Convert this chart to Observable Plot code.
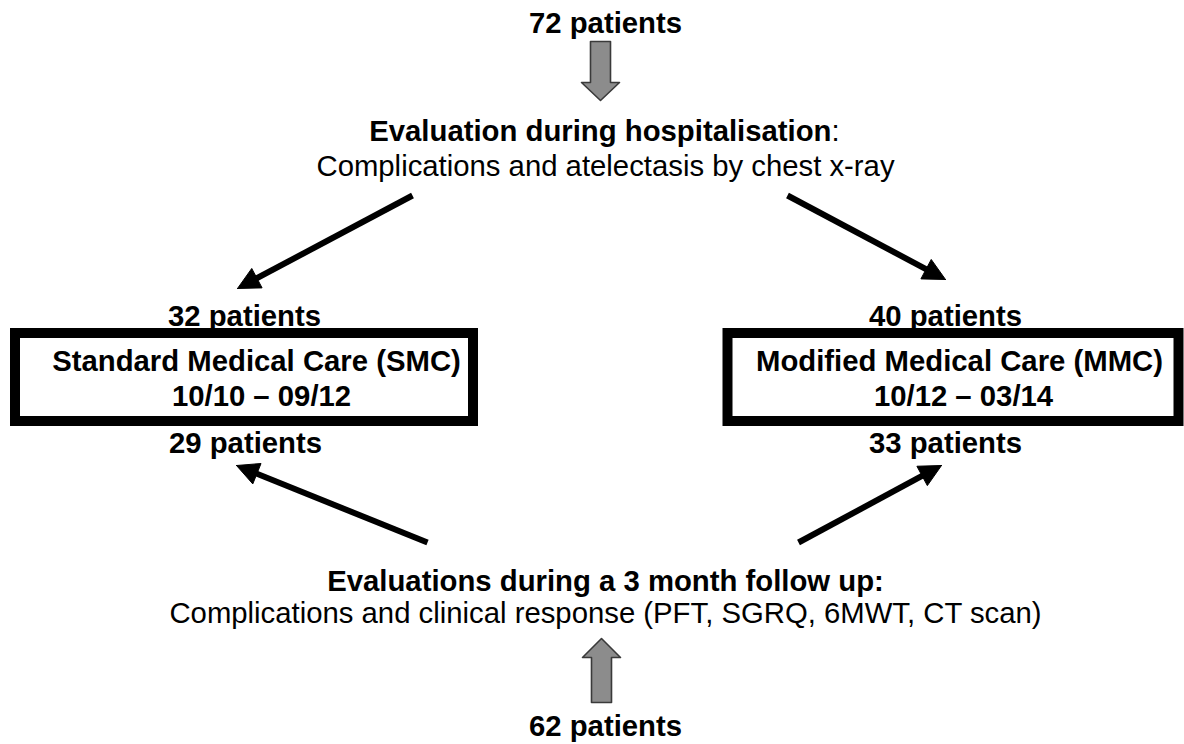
<!DOCTYPE html>
<html>
<head>
<meta charset="utf-8">
<script src="https://cdn.jsdelivr.net/npm/d3@7"></script>
<script src="https://cdn.jsdelivr.net/npm/@observablehq/plot@0.6"></script>
<style>
  html, body { margin: 0; padding: 0; background: #fff; }
  #chart svg { display: block; }
</style>
</head>
<body>
<div id="chart"></div>
<script>
// ---- Data ----
const counts = [72, 32, 40, 29, 33, 62];
const arms = ["Standard Medical Care (SMC)", "Modified Medical Care (MMC)"];
const periods = ["10/10 – 09/12", "10/12 – 03/14"];
const stageTitles = ["Evaluation during hospitalisation", "Evaluations during a 3 month follow up:"];
const stageSuffix = [":", ""];
const stageDetails = [
  "Complications and atelectasis by chest x-ray",
  "Complications and clinical response (PFT, SGRQ, 6MWT, CT scan)"
];

// ---- Layout (diagram coordinates, separate from data) ----
const W = 1184, H = 744;
const countPos = [[605, 32], [244, 325], [945, 325], [245, 452], [945, 452], [605, 735]];
const boxPos = [[15, 473, 333, 421], [727.5, 1178.5, 333, 421]];
const armPos = [[256, 370], [959, 370]];
const periodPos = [[261, 405], [963, 405]];
const stagePos = [[831, 140], [605, 590]];
const stageAnchor = ["end", "middle"];
const detailPos = [[605, 175], [605, 622]];
const blackArrows = [
  [[412, 195], [237, 288]],
  [[787, 195], [945, 279]],
  [[427, 542], [236, 465]],
  [[798, 542], [941, 465]]
];
// gray block arrows: [cx, tailY, headBaseY, tipY]
const blockArrows = [[600, 41, 82, 100], [601, 702, 657, 638]];

// ---- Derived tables ----
const countRows = counts.map((n, i) => ({label: `${n} patients`, x: countPos[i][0], y: countPos[i][1]}));
const boxRows = boxPos.map(([x1, x2, y1, y2]) => ({x1, x2, y1, y2}));
const armRows = arms.map((t, i) => ({t, x: armPos[i][0], y: armPos[i][1]}));
const periodRows = periods.map((t, i) => ({t, x: periodPos[i][0], y: periodPos[i][1]}));
const stageRows = stageTitles.map((t, i) => ({t, x: stagePos[i][0], y: stagePos[i][1], a: stageAnchor[i]}));
const suffixRows = stageSuffix.map((t, i) => ({t, x: stagePos[i][0], y: stagePos[i][1]})).filter(d => d.t);
const detailRows = stageDetails.map((t, i) => ({t, x: detailPos[i][0], y: detailPos[i][1]}));

const headLen = 22, headHalf = 11;
const shafts = [], heads = [];
blackArrows.forEach(([[x0, y0], [x1, y1]], k) => {
  const dx = x1 - x0, dy = y1 - y0, L = Math.hypot(dx, dy);
  const ux = dx / L, uy = dy / L;
  const bx = x1 - ux * headLen, by = y1 - uy * headLen;
  shafts.push({x1: x0, y1: y0, x2: bx + ux * 2, y2: by + uy * 2});
  const px = -uy, py = ux;
  const pts = [[x1, y1], [bx + px * headHalf, by + py * headHalf], [bx - px * headHalf, by - py * headHalf], [x1, y1]];
  pts.forEach(([x, y]) => heads.push({x, y, k}));
});

const blocks = [];
const shaftHalf = 10, blockHeadHalf = 19;
blockArrows.forEach(([cx, t, hb, tip], k) => {
  const pts = [
    [cx - shaftHalf, t], [cx - shaftHalf, hb], [cx - blockHeadHalf, hb], [cx, tip],
    [cx + blockHeadHalf, hb], [cx + shaftHalf, hb], [cx + shaftHalf, t], [cx - shaftHalf, t]
  ];
  pts.forEach(([x, y]) => blocks.push({x, y, k}));
});

const font = "'Liberation Sans', Arial, Helvetica, sans-serif";
const fs = 29.3;
const stageText = (anchor) => Plot.text(stageRows.filter(d => d.a === anchor), {
  x: "x", y: "y", text: "t", textAnchor: anchor, fontSize: fs, fontWeight: "bold", lineAnchor: "bottom", fill: "#000"
});

const chart = Plot.plot({
  width: W,
  height: H,
  margin: 0,
  x: {domain: [0, W], range: [0, W], axis: null},
  y: {domain: [0, H], range: [0, H], axis: null},
  style: {fontFamily: font, background: "#fff", color: "#000"},
  marks: [
    Plot.rect(boxRows, {x1: "x1", x2: "x2", y1: "y1", y2: "y2", fill: "#fff", stroke: "#000", strokeWidth: 10}),
    Plot.link(shafts, {x1: "x1", y1: "y1", x2: "x2", y2: "y2", stroke: "#000", strokeWidth: 6}),
    Plot.line(heads, {x: "x", y: "y", z: "k", fill: "#000", stroke: "#000", strokeWidth: 1, curve: "linear"}),
    Plot.line(blocks, {x: "x", y: "y", z: "k", fill: "#8c8c8c", stroke: "#3a3a3a", strokeWidth: 1.6, curve: "linear"}),
    Plot.text(countRows, {x: "x", y: "y", text: "label", fontSize: fs, fontWeight: "bold", lineAnchor: "bottom", fill: "#000"}),
    Plot.text(armRows, {x: "x", y: "y", text: "t", fontSize: fs, fontWeight: "bold", lineAnchor: "bottom", fill: "#000"}),
    Plot.text(periodRows, {x: "x", y: "y", text: "t", fontSize: fs, fontWeight: "bold", lineAnchor: "bottom", fill: "#000"}),
    stageText("end"),
    stageText("middle"),
    Plot.text(suffixRows, {x: "x", y: "y", text: "t", textAnchor: "start", fontSize: fs, lineAnchor: "bottom", fill: "#000"}),
    Plot.text(detailRows, {x: "x", y: "y", text: "t", fontSize: fs, lineAnchor: "bottom", fill: "#000"})
  ]
});
document.getElementById("chart").appendChild(chart);
</script>
</body>
</html>
